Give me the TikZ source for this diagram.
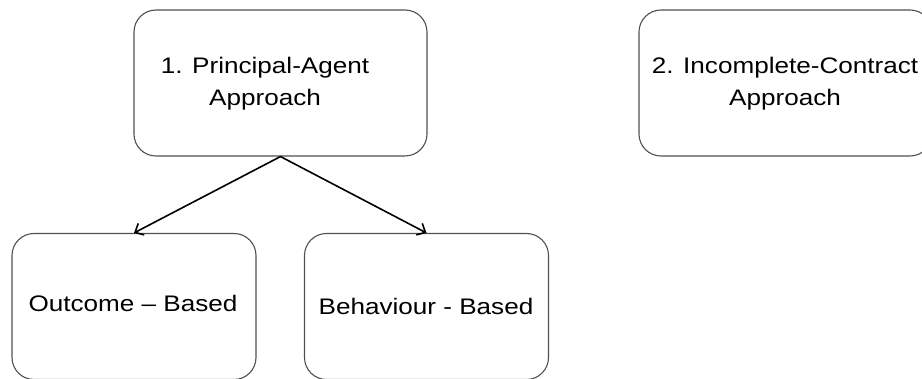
\documentclass[tikz,border=0pt]{standalone}
\usepackage{fontspec}
\setmainfont[FakeStretch=1.16]{Liberation Sans}
\usetikzlibrary{arrows.meta}
\definecolor{ink}{RGB}{0,0,0}
\definecolor{edge}{RGB}{80,80,80}

\begin{document}
\begin{tikzpicture}[x=1pt,y=-1pt,line cap=round,line join=round,
  box/.style={draw=edge,line width=1.1pt,rounded corners=22pt,minimum width=293pt,minimum height=146pt,inner sep=0pt},
  lowbox/.style={box,minimum width=244pt},
  txt/.style={font=\fontsize{22.5}{32}\selectfont,text=ink,align=center,inner sep=0pt},
  arr/.style={draw=ink,line width=1.6pt,-{Straight Barb[length=7pt,width=13pt]}}]
\useasboundingbox (0,0) rectangle (922,379);
% upper row
\node[box] (pa) at (280.5,83) {};
\node[txt] (patext) at (265,84) {1. Principal-Agent\\Approach};
\node[box] (ic) at (785.5,83) {};
\node[txt] (ictext) at (785,84) {2. Incomplete-Contract\\Approach};
% lower row
\node[lowbox] (ob) at (134,306.5) {};
\node[txt,anchor=base] (obtext) at (133,312) {Outcome -- Based};
\node[lowbox] (bb) at (426.5,306.5) {};
\node[txt,anchor=base] (bbtext) at (426,315) {Behaviour - Based};
\draw[arr] (pa.south) -- (ob.north);
\draw[arr] (pa.south) -- (bb.north);
\end{tikzpicture}
\end{document}
